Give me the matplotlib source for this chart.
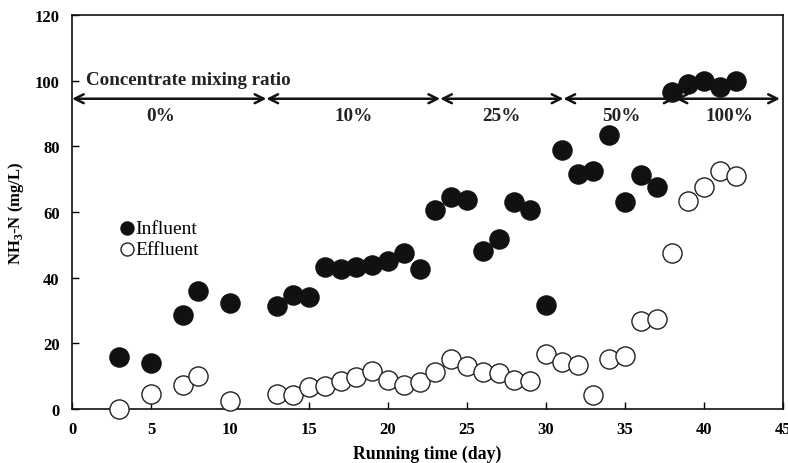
import matplotlib
matplotlib.use('Agg')
import matplotlib.pyplot as plt

plt.rcParams['font.family'] = ['Liberation Serif', 'DejaVu Serif']
plt.rcParams['mathtext.fontset'] = 'custom'
plt.rcParams['mathtext.rm'] = 'Liberation Serif:bold'
plt.rcParams['mathtext.bf'] = 'Liberation Serif:bold'

# Running time (day)
days = [3, 5, 7, 8, 10, 13, 14, 15, 16, 17, 18, 19, 20, 21, 22, 23, 24, 25,
        26, 27, 28, 29, 30, 31, 32, 33, 34, 35, 36, 37, 38, 39, 40, 41, 42]
# NH3-N influent / effluent (mg/L)
influent = [15.9, 14.0, 28.5, 36.0, 32.2, 31.3, 34.6, 34.0, 43.3, 42.6, 43.3,
            44.0, 45.2, 47.5, 42.7, 60.6, 64.5, 63.6, 48.2, 51.7, 62.9, 60.6,
            31.6, 79.0, 71.7, 72.6, 83.4, 63.1, 71.3, 67.5, 96.7, 99.0, 99.8,
            98.2, 99.9]
effluent = [0.0, 4.5, 7.3, 10.0, 2.4, 4.6, 4.3, 6.8, 7.1, 8.6, 9.8, 11.6, 8.8,
            7.3, 8.3, 11.4, 15.3, 13.1, 11.3, 11.1, 8.8, 8.6, 16.9, 14.3, 13.4,
            4.4, 15.1, 16.0, 26.8, 27.4, 47.4, 63.2, 67.6, 72.5, 70.9]

# concentrate mixing ratio stages
stage_edges = [0, 12.3, 23.3, 31.1, 38.2, 44.8]
stage_labels = ['0%', '10%', '25%', '50%', '100%']
stage_label_x = [5.6, 17.8, 27.2, 34.8, 41.6]

fig = plt.figure(figsize=(7.88, 4.64), dpi=100)
ax = fig.add_axes([0.0914, 0.1164, 0.9023, 0.8491])

ax.scatter(days, influent, s=190, c='#111111', edgecolors='#111111',
           linewidths=1, zorder=3, clip_on=False, label='Influent')
ax.scatter(days, effluent, s=190, facecolors='white', edgecolors='#222222',
           linewidths=1, zorder=3, clip_on=False, label='Effluent')

arrow_y = 94.5
for i in range(len(stage_labels)):
    ax.annotate('', xy=(stage_edges[i + 1], arrow_y), xytext=(stage_edges[i], arrow_y),
                arrowprops=dict(arrowstyle='<->', lw=1.8, color='#111111',
                                shrinkA=0, shrinkB=0, mutation_scale=16),
                zorder=2)
    ax.text(stage_label_x[i], 89.3, stage_labels[i], ha='center', va='center',
            fontsize=13.8, fontweight='bold', color='#222222')
ax.text(0.9, 100.3, 'Concentrate mixing ratio', ha='left', va='center',
        fontsize=13.7, fontweight='bold', color='#222222')

ax.set_xlim(0, 45)
ax.set_ylim(0, 120)
ax.set_xticks(range(0, 46, 5))
ax.set_yticks(range(0, 121, 20))
ax.tick_params(direction='in', length=5, width=1, labelsize=12, pad=9)
for lab in ax.get_xticklabels() + ax.get_yticklabels():
    lab.set_fontweight('bold')
for sp in ax.spines.values():
    sp.set_linewidth(1.2)
    sp.set_color('#111111')

ax.set_xlabel('Running time (day)', fontsize=12.8, fontweight='bold', labelpad=5)
ax.set_ylabel(r'NH$_{\mathbf{3}}$-N (mg/L)', fontsize=12, fontweight='bold', labelpad=6)

ax.legend(loc='upper left', bbox_to_anchor=(0.055, 0.505), frameon=False,
          markerscale=0.68, handlelength=0.6, handletextpad=0.15, borderpad=0,
          labelspacing=0.15, prop={'size': 14})

fig.savefig('out.png', dpi=100)
